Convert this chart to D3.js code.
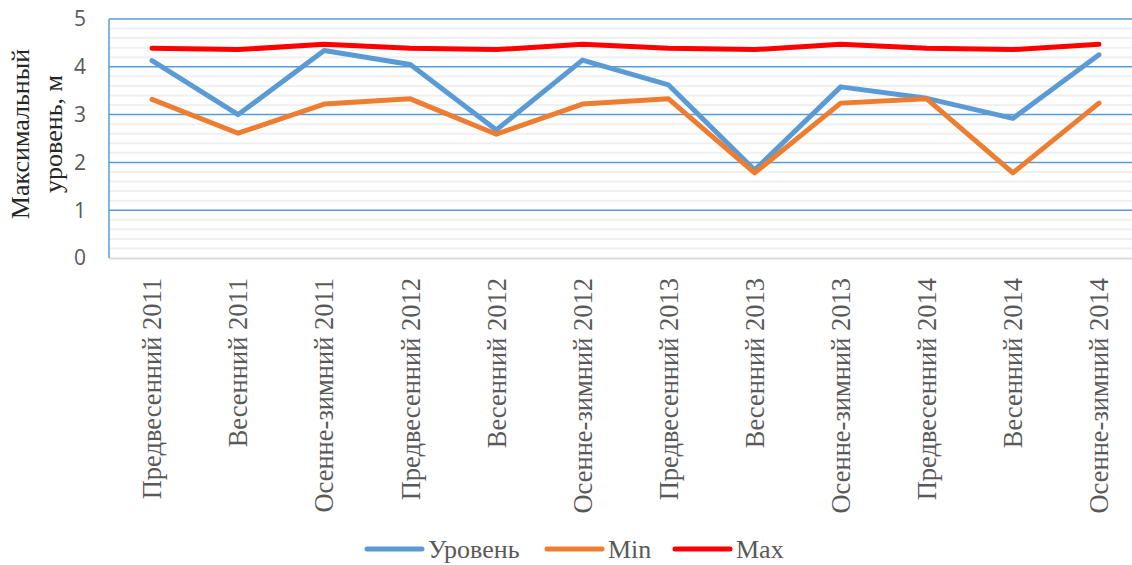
<!DOCTYPE html>
<html>
<head>
<meta charset="utf-8">
<script src="https://cdn.jsdelivr.net/npm/d3@7"></script>
<style>
  body { margin: 0; background: #fff; }
  svg { display: block; }
</style>
</head>
<body>
<div id="chart"></div>
<script>
// categories and series
var categories = ["Предвесенний 2011", "Весенний 2011", "Осенне-зимний 2011",
                  "Предвесенний 2012", "Весенний 2012", "Осенне-зимний 2012",
                  "Предвесенний 2013", "Весенний 2013", "Осенне-зимний 2013",
                  "Предвесенний 2014", "Весенний 2014", "Осенне-зимний 2014"];
var level = [4.13, 3.0, 4.34, 4.05, 2.68, 4.14, 3.62, 1.84, 3.58, 3.34, 2.92, 4.25];
var minVals = [3.32, 2.61, 3.22, 3.33, 2.59, 3.22, 3.33, 1.78, 3.24, 3.33, 1.78, 3.24];
var maxVals = [4.39, 4.36, 4.47, 4.39, 4.36, 4.47, 4.39, 4.36, 4.47, 4.39, 4.36, 4.47];
var yTicks = [0, 1, 2, 3, 4, 5];
var seriesNames = ["Уровень", "Min", "Max"];
var seriesColors = ["#5b9bd5", "#ed7d31", "#ff0000"];

var W = 1132, H = 565;
var pLeft = 109, pRight = 1142, pTop = 19, pBottom = 258;

var svg = d3.select("#chart").append("svg")
    .attr("width", W)
    .attr("height", H);

var x = d3.scalePoint().domain(categories).range([pLeft, pRight]).padding(0.5);
var y = d3.scaleLinear().domain([0, 5]).range([pBottom, pTop]);

// minor gridlines every 0.2
var minor = d3.range(1, 25).filter(function(d){ return d % 5 !== 0; }).map(function(d){ return d / 5; });
svg.append("g").selectAll("line").data(minor).enter().append("line")
    .attr("x1", pLeft).attr("x2", pRight)
    .attr("y1", function(d){ return y(d); })
    .attr("y2", function(d){ return y(d); })
    .attr("stroke", "#f0f0f0")
    .attr("stroke-width", 2);

// major gridlines
svg.append("g").selectAll("line").data(yTicks.slice(1)).enter().append("line")
    .attr("x1", pLeft).attr("x2", pRight)
    .attr("y1", function(d){ return y(d); })
    .attr("y2", function(d){ return y(d); })
    .attr("stroke", "#5b9bd5")
    .attr("stroke-width", 1.5);

// axes lines
svg.append("line")
    .attr("x1", pLeft).attr("x2", pRight)
    .attr("y1", pBottom + 0.5).attr("y2", pBottom + 0.5)
    .attr("stroke", "#d9d9d9").attr("stroke-width", 2);
svg.append("line")
    .attr("x1", pLeft).attr("x2", pLeft)
    .attr("y1", pTop).attr("y2", pBottom)
    .attr("stroke", "#5b9bd5").attr("stroke-width", 1.5);

// y tick labels
svg.append("g").selectAll("text").data(yTicks).enter().append("text")
    .attr("x", 86)
    .attr("y", function(d){ return y(d); })
    .attr("dy", "0.35em")
    .attr("text-anchor", "end")
    .attr("font-family", "'Open Sans', 'Noto Sans', sans-serif")
    .attr("font-size", 21)
    .attr("fill", "#595959")
    .text(function(d){ return d; });

// x category labels, rotated
svg.append("g").selectAll("text").data(categories).enter().append("text")
    .attr("transform", function(d){ return "translate(" + x(d) + "," + 278 + ") rotate(-90)"; })
    .attr("dy", "0.35em")
    .attr("text-anchor", "end")
    .attr("font-family", "'Liberation Serif', 'Times New Roman', serif")
    .attr("font-size", 26.5)
    .attr("fill", "#595959")
    .text(function(d){ return d; });

// y title
var yt = svg.append("text")
    .attr("transform", "translate(20," + 134 + ") rotate(-90)")
    .attr("text-anchor", "middle")
    .attr("font-family", "'Liberation Serif', 'Times New Roman', serif")
    .attr("font-size", 26)
    .attr("fill", "#262626");
yt.append("tspan").attr("x", 0).attr("dy", "0.35em").text("Максимальный");
yt.append("tspan").attr("x", 0).attr("dy", 33).text("уровень, м");

// lines
var line = d3.line()
    .x(function(d, i){ return x(categories[i]); })
    .y(function(d){ return y(d); });

[level, minVals, maxVals].forEach(function(s, k){
    svg.append("path")
        .datum(s)
        .attr("d", line)
        .attr("fill", "none")
        .attr("stroke", seriesColors[k])
        .attr("stroke-width", 5)
        .attr("stroke-linecap", "round")
        .attr("stroke-linejoin", "round");
});

// legend
var legendX = [367, 547, 675];
var lg = svg.append("g").selectAll("g").data(seriesNames).enter().append("g")
    .attr("transform", function(d, i){ return "translate(" + legendX[i] + ",549)"; });
lg.append("line")
    .attr("x1", 0).attr("x2", 55)
    .attr("stroke", function(d, i){ return seriesColors[i]; })
    .attr("stroke-width", 5)
    .attr("stroke-linecap", "round");
lg.append("text")
    .attr("x", 61)
    .attr("dy", "0.35em")
    .attr("font-family", "'Liberation Serif', 'Times New Roman', serif")
    .attr("font-size", 26)
    .attr("fill", "#595959")
    .text(function(d){ return d; });
</script>
</body>
</html>
